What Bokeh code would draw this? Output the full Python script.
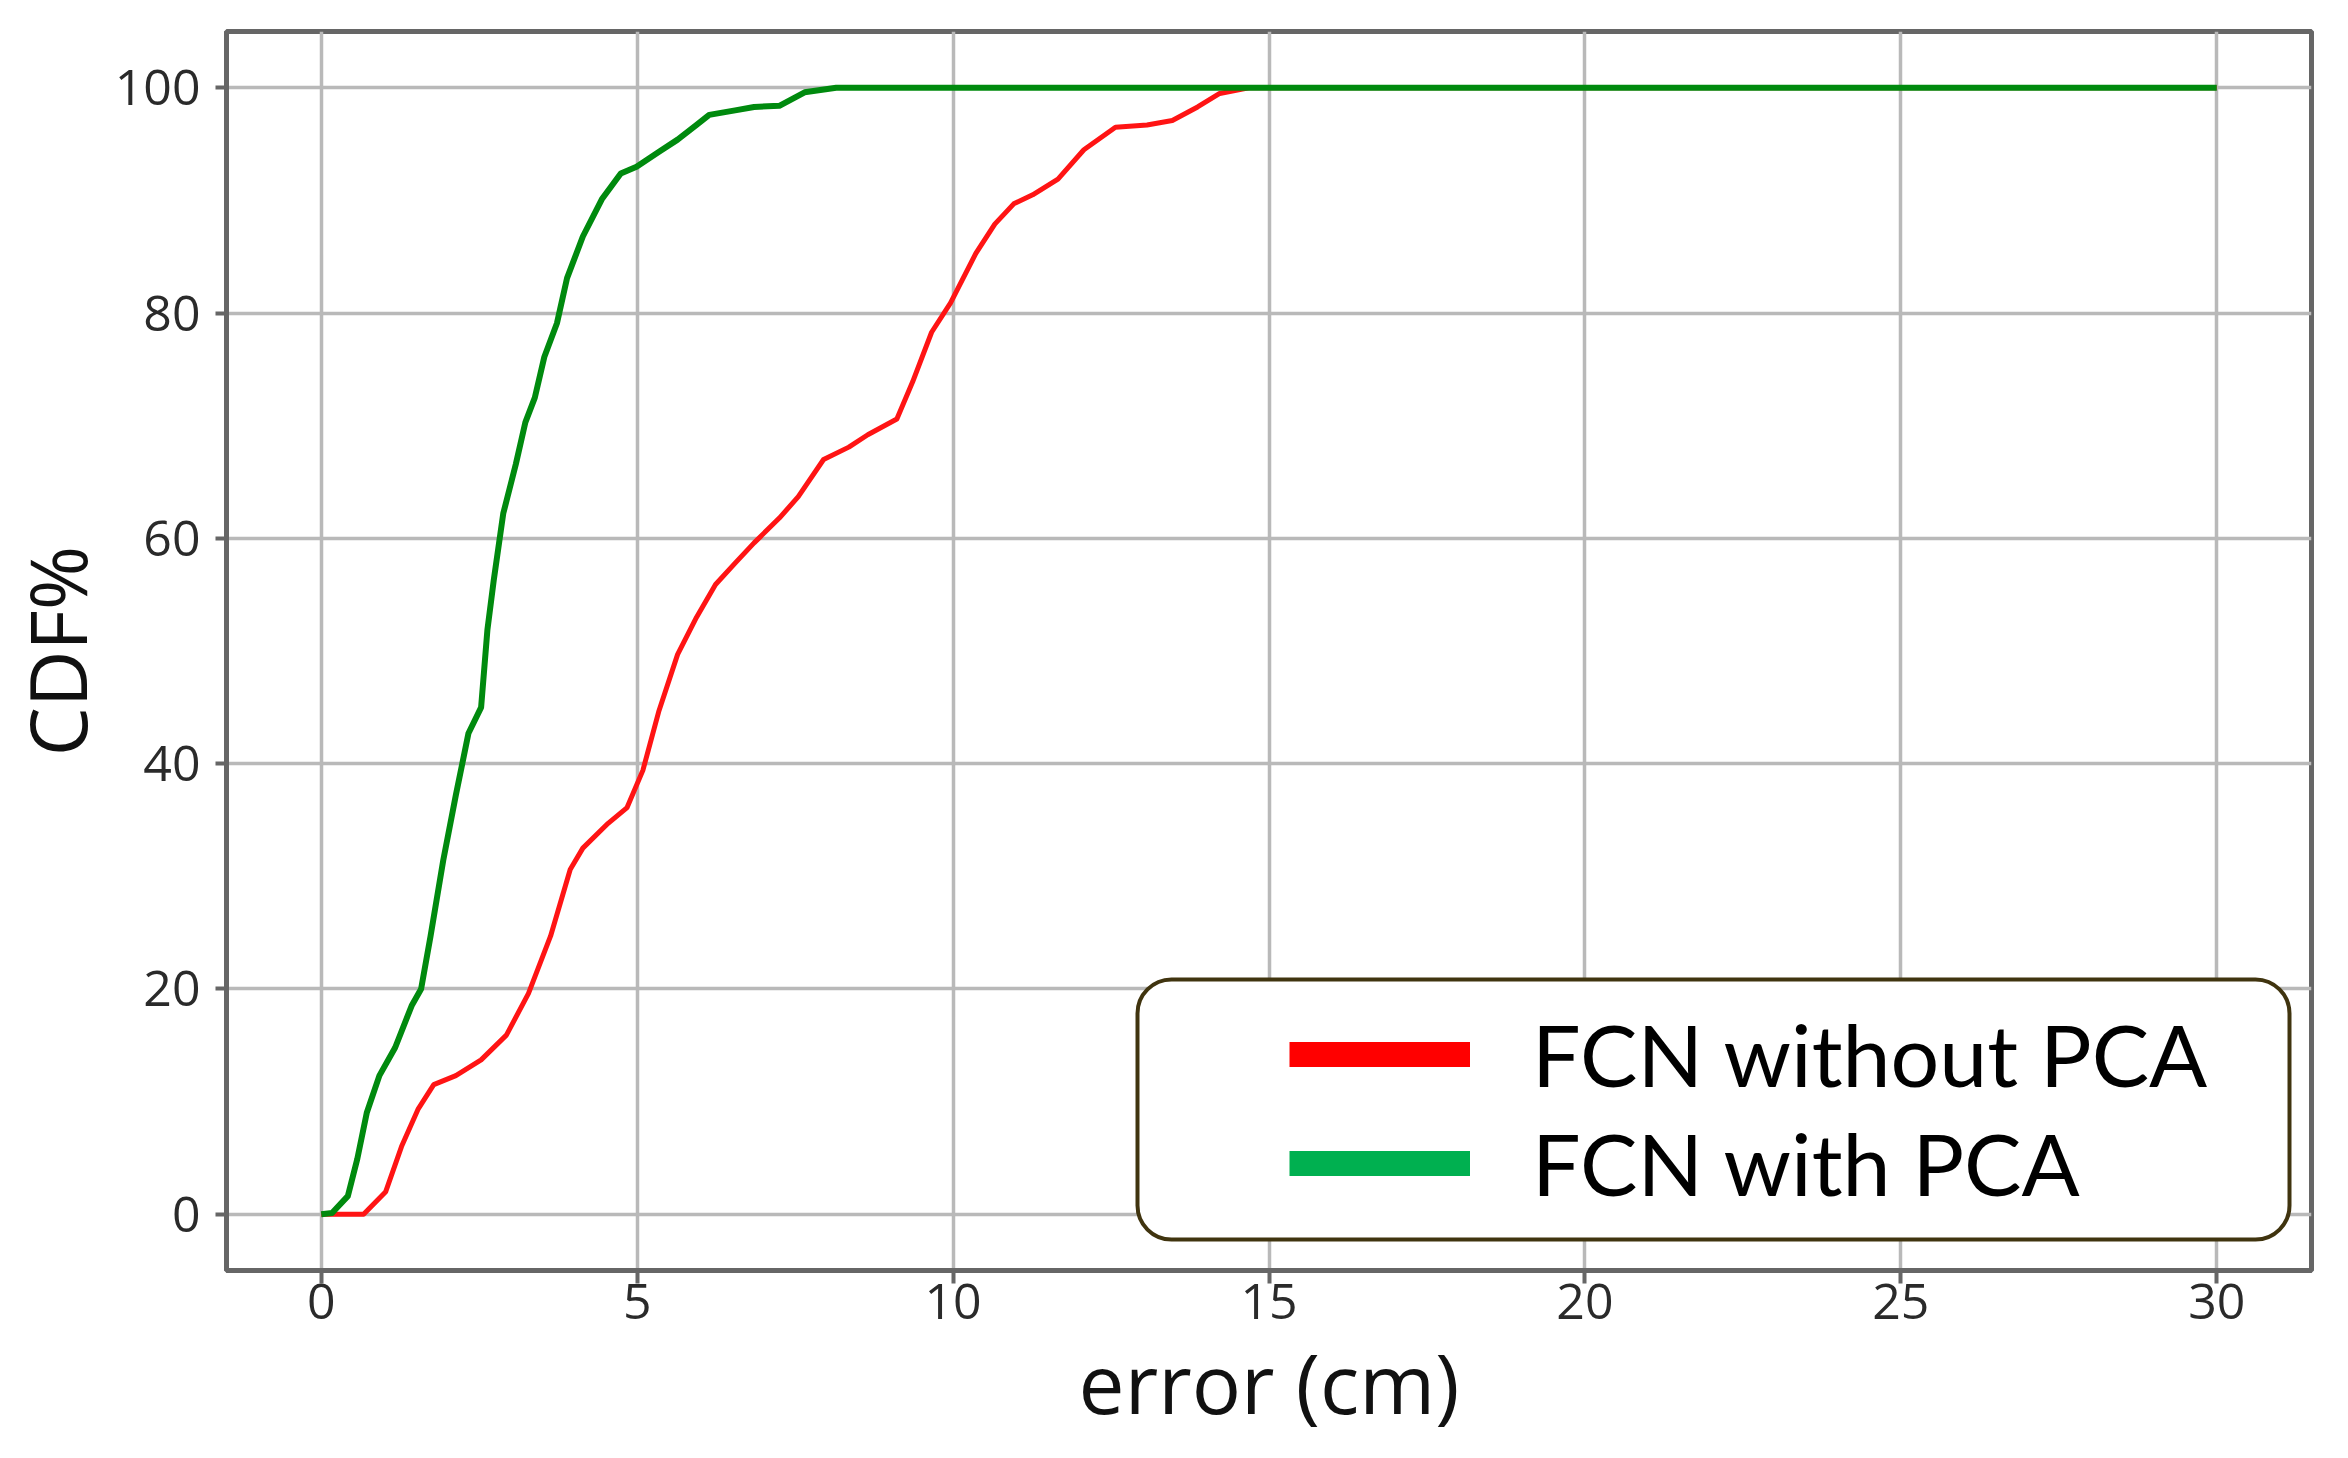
from bokeh.plotting import figure
from bokeh.models import (Range1d, FixedTicker, Legend, LegendItem, BoxAnnotation,
                          ColumnDataSource)
from bokeh.embed import file_html
from bokeh.resources import INLINE

# ---- data ----
x_ticks = [0, 5, 10, 15, 20, 25, 30]
y_ticks = [0, 20, 40, 60, 80, 100]

green_err = [0, 0.17, 0.42, 0.57, 0.72, 0.92, 1.17, 1.43, 1.58, 1.73, 1.93, 2.13, 2.33,
             2.53, 2.63, 2.73, 2.88, 3.08, 3.23, 3.38, 3.53, 3.73, 3.89, 4.14, 4.44, 4.74,
             4.99, 5.34, 5.64, 5.94, 6.14, 6.55, 6.85, 7.25, 7.65, 8.15, 30]
green_cdf = [0, 0.1, 1.6, 4.9, 9.0, 12.3, 14.8, 18.5, 20.0, 24.7, 31.4, 37.2, 42.7,
             45.0, 51.9, 56.3, 62.2, 66.6, 70.3, 72.5, 76.1, 79.1, 83.1, 86.8, 90.1, 92.4,
             93.0, 94.3, 95.4, 96.7, 97.6, 98.0, 98.3, 98.4, 99.6, 100, 100]

red_err = [0, 0.67, 1.02, 1.27, 1.53, 1.78, 2.13, 2.53, 2.93, 3.28, 3.63, 3.94, 4.14,
           4.54, 4.84, 5.09, 5.34, 5.64, 5.94, 6.24, 6.55, 6.85, 7.25, 7.55, 7.95, 8.35,
           8.65, 9.11, 9.36, 9.66, 9.96, 10.36, 10.66, 10.96, 11.26, 11.66, 12.07, 12.57,
           13.07, 13.47, 13.87, 14.22, 14.68, 30]
red_cdf = [0, 0, 2, 6, 9.3, 11.5, 12.3, 13.7, 15.9, 19.6, 24.7, 30.6, 32.5,
           34.7, 36.1, 39.4, 44.6, 49.7, 53, 55.9, 57.8, 59.6, 61.8, 63.7, 67, 68.1,
           69.2, 70.6, 73.9, 78.3, 80.9, 85.3, 87.9, 89.7, 90.5, 91.9, 94.5, 96.5,
           96.7, 97.1, 98.3, 99.5, 100, 100]

series_labels = ["FCN without PCA", "FCN with PCA"]
x_label = "error (cm)"
y_label = "CDF%"

# ---- figure ----
p = figure(width=2332, height=1440, output_backend="svg", toolbar_location=None,
           x_range=Range1d(-1.5, 31.5), y_range=Range1d(-5, 105),
           min_border_left=220, min_border_right=21, min_border_top=31,
           min_border_bottom=167)
p.background_fill_color = "white"
p.border_fill_color = "white"
p.outline_line_color = "#666666"
p.outline_line_width = 5

tick_font = "Open Sans"
for ax, ticks in ((p.xaxis[0], x_ticks), (p.yaxis[0], y_ticks)):
    ax.ticker = FixedTicker(ticks=ticks)
    ax.axis_line_color = "#666666"
    ax.axis_line_width = 5
    ax.major_tick_line_color = "#666666"
    ax.major_tick_line_width = 4
    ax.major_tick_in = 0
    ax.minor_tick_line_color = None
    ax.major_label_text_font = tick_font
    ax.major_label_text_font_size = "50px"
    ax.major_label_text_color = "#2a2a2a"
    ax.axis_label_text_font = "Open Sans"
    ax.axis_label_text_font_style = "normal"
    ax.axis_label_text_color = "#111111"

p.xaxis.axis_label = x_label
p.xaxis.axis_label_text_font_size = "82px"
p.xaxis.major_tick_out = 13
p.xaxis.major_label_standoff = 0
p.xaxis.axis_label_standoff = 4

p.yaxis.axis_label = y_label
p.yaxis.axis_label_text_font_size = "78px"
p.yaxis.major_tick_out = 11
p.yaxis.major_label_standoff = 15
p.yaxis.axis_label_standoff = 2

p.xgrid.ticker = FixedTicker(ticks=x_ticks)
p.ygrid.ticker = FixedTicker(ticks=y_ticks)
for g in (p.xgrid[0], p.ygrid[0]):
    g.grid_line_color = "#b9b9b9"
    g.grid_line_width = 3.5

# curves
p.line(red_err, red_cdf, line_color="#ff1414", line_width=5, line_join="round")
p.line(green_err, green_cdf, line_color="#008a0e", line_width=6, line_join="round")

# legend (rounded frame + items)
box_kwargs = {}
if "border_radius" in BoxAnnotation.properties():
    box_kwargs["border_radius"] = 34
box = BoxAnnotation(left=911, right=2063, bottom=31, top=291,
                    left_units="screen", right_units="screen",
                    bottom_units="screen", top_units="screen",
                    fill_color="white", fill_alpha=1.0,
                    line_color="#40340f", line_alpha=1.0, line_width=4, **box_kwargs)
p.add_layout(box)

nan = float("nan")
r_leg = p.line("x", "y", source=ColumnDataSource(data=dict(x=[nan], y=[nan])),
               line_color="#ff0000", line_width=25, line_cap="butt")
g_leg = p.line("x", "y", source=ColumnDataSource(data=dict(x=[nan], y=[nan])),
               line_color="#00b050", line_width=25, line_cap="butt")

legend = Legend(items=[LegendItem(label=series_labels[0], renderers=[r_leg]),
                       LegendItem(label=series_labels[1], renderers=[g_leg])],
                location=(1063, 56), orientation="vertical",
                glyph_width=181, glyph_height=26, label_standoff=62, spacing=6,
                padding=0, margin=0, border_line_color=None,
                background_fill_alpha=0,
                label_text_font="Lato", label_text_font_size="86px",
                label_text_color="black")
p.add_layout(legend)

open("out.html", "w").write(file_html(p, INLINE))
